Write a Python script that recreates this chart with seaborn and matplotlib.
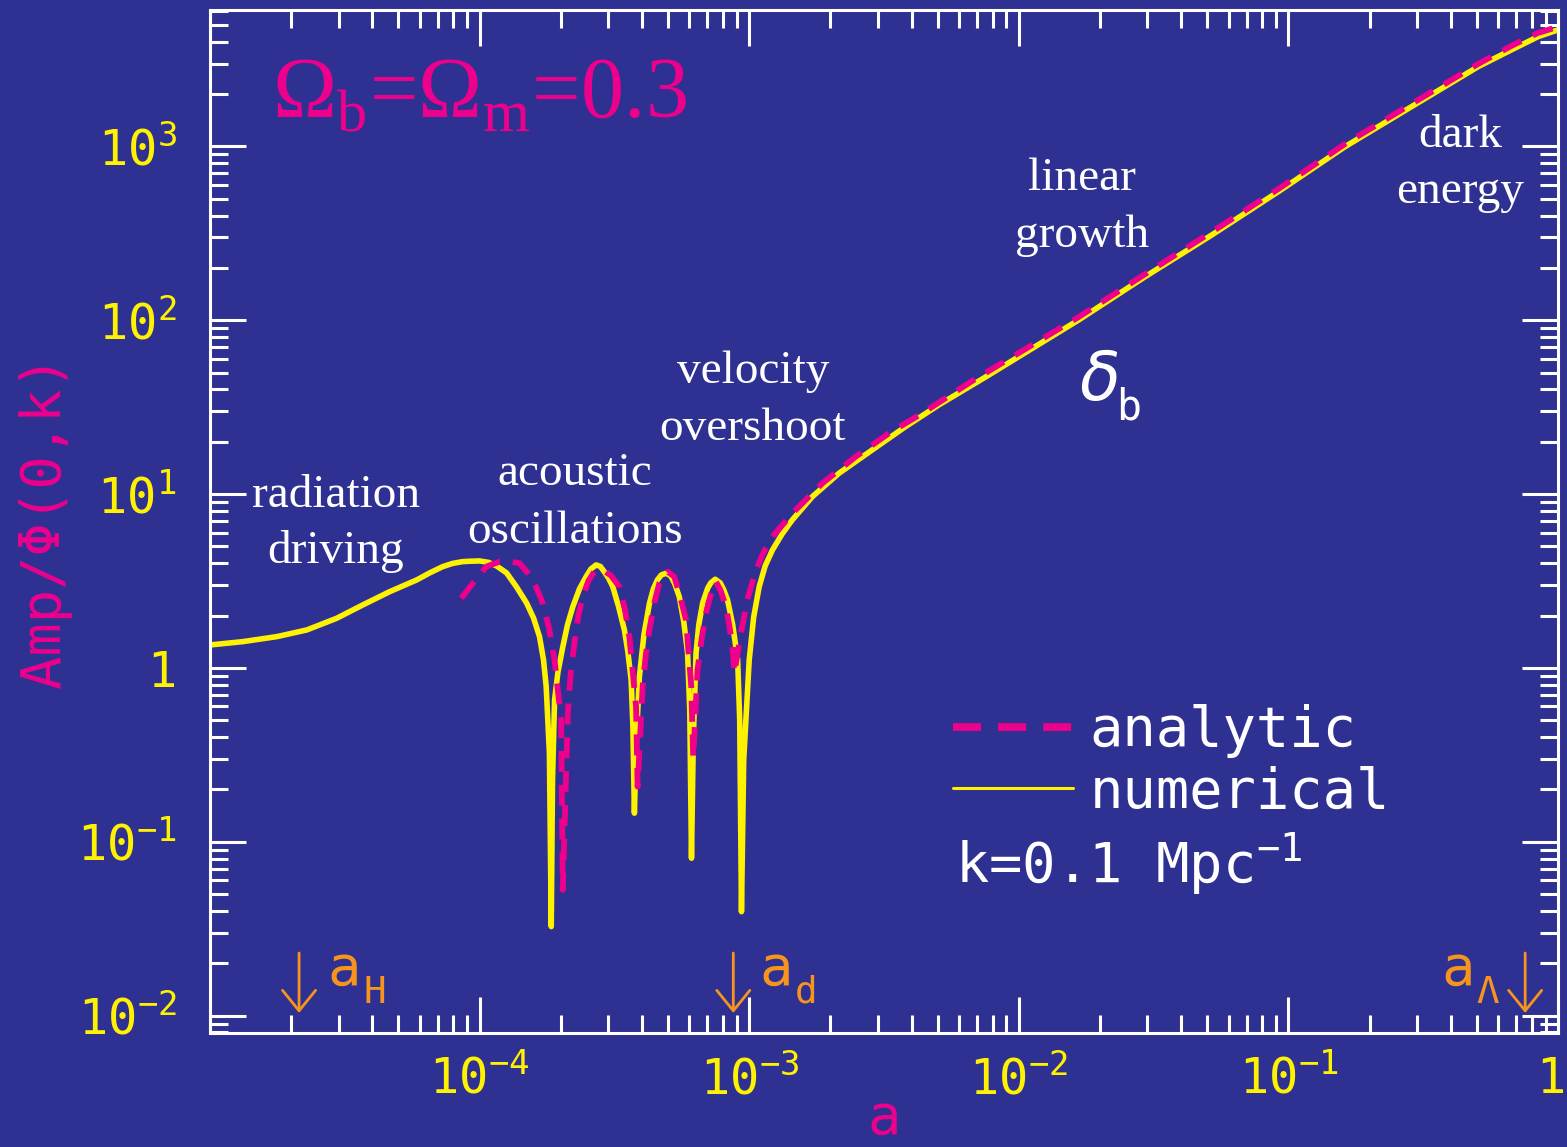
import numpy as np
import pandas as pd
import matplotlib
matplotlib.use("Agg")
import matplotlib.pyplot as plt
from matplotlib.ticker import LogLocator, NullFormatter, FuncFormatter
from matplotlib.transforms import ScaledTranslation
import seaborn as sns

# Baryon density amplitude delta_b / Phi(0,k) versus scale factor a, k = 0.1 Mpc^-1
num_a = [1.0e-5, 1.324e-5, 1.770e-5, 2.286e-5, 2.951e-5, 3.687e-5, 4.642e-5, 5.843e-5,
         6.53e-5, 7.298e-5, 7.943e-5, 8.65e-5, 9.183e-5, 1.0e-4, 1.080e-4, 1.156e-4,
         1.259e-4, 1.371e-4, 1.493e-4, 1.585e-4, 1.668e-4, 1.726e-4, 1.766e-4, 1.815e-4,
         1.844e-4,
         1.864e-4, 1.897e-4, 1.953e-4, 2.036e-4, 2.118e-4, 2.218e-4, 2.346e-4, 2.484e-4,
         2.588e-4, 2.704e-4, 2.805e-4, 2.904e-4, 3.005e-4, 3.118e-4, 3.272e-4, 3.444e-4,
         3.548e-4, 3.648e-4, 3.702e-4, 3.751e-4,
         3.814e-4, 3.915e-4, 4.068e-4, 4.266e-4, 4.41e-4, 4.564e-4, 4.72e-4, 4.913e-4,
         5.12e-4, 5.297e-4, 5.503e-4, 5.72e-4, 5.907e-4, 6.018e-4, 6.108e-4,
         6.203e-4, 6.35e-4, 6.501e-4, 6.72e-4, 7.02e-4, 7.2e-4, 7.48e-4, 7.81e-4,
         8.047e-4, 8.31e-4, 8.687e-4, 9.06e-4, 9.22e-4, 9.36e-4,
         9.541e-4, 1.0e-3, 1.039e-3, 1.089e-3, 1.146e-3, 1.220e-3, 1.325e-3, 1.445e-3,
         1.715e-3, 2.154e-3, 2.86e-3, 3.80e-3, 5.05e-3, 7.53e-3, 1.668e-2, 2.944e-2,
         5.20e-2, 9.18e-2, 0.1622, 0.2864, 0.5058, 0.6714, 0.8435, 1.0]
num_amp = [1.356, 1.417, 1.514, 1.654, 1.931, 2.304, 2.748, 3.208,
           3.521, 3.827, 3.994, 4.089, 4.11, 4.127, 4.046, 3.863,
           3.521, 2.924, 2.366, 1.940, 1.514, 1.112, 0.781, 0.324,
           0.0325,
           0.2267, 0.6545, 0.9484, 1.326, 1.768, 2.253, 2.848, 3.352,
           3.712, 3.914, 3.837, 3.567, 3.295, 2.936, 2.274, 1.654,
           1.236, 0.853, 0.47, 0.146,
           0.3852, 0.891, 1.548, 2.356, 2.848, 3.208, 3.428, 3.507,
           3.383, 3.043, 2.572, 1.839, 1.22, 0.5733, 0.0804,
           0.3852, 1.22, 1.768, 2.366, 2.886, 3.084, 3.238, 3.084,
           2.811, 2.462, 1.768, 1.112, 0.502, 0.0396,
           0.2956, 1.112, 1.965, 2.936, 3.863, 4.775, 5.902, 7.107,
           9.674, 13.19, 17.96, 24.45, 32.6, 47.2, 100.5, 178.4,
           309.9, 550.2, 998, 1697, 2882, 3596, 4287, 4688]

ana_a = [8.55e-5, 9.445e-5, 1.059e-4, 1.186e-4, 1.292e-4, 1.406e-4, 1.532e-4, 1.626e-4,
         1.715e-4, 1.809e-4, 1.896e-4, 2.007e-4, 2.035e-4,
         2.124e-4, 2.183e-4, 2.248e-4, 2.326e-4, 2.413e-4, 2.533e-4, 2.666e-4, 2.861e-4,
         3.069e-4, 3.300e-4, 3.458e-4, 3.594e-4, 3.805e-4, 3.857e-4,
         4.025e-4, 4.136e-4, 4.261e-4, 4.446e-4, 4.642e-4, 4.803e-4, 4.98e-4, 5.275e-4,
         5.552e-4, 5.83e-4, 6.098e-4, 6.203e-4,
         6.434e-4, 6.668e-4, 6.913e-4, 7.2e-4, 7.526e-4, 7.84e-4, 8.197e-4, 8.43e-4,
         8.67e-4, 8.80e-4,
         9.34e-4, 9.83e-4, 1.059e-3, 1.132e-3, 1.220e-3, 1.446e-3, 1.868e-3, 2.485e-3,
         3.30e-3, 4.385e-3, 6.714e-3, 1.668e-2, 2.946e-2, 5.198e-2, 9.18e-2, 0.1622,
         0.2862, 0.5055, 0.6714, 0.8431, 1.0]
ana_amp = [2.518, 3.072, 3.827, 4.089, 4.101, 4.004, 3.428, 2.886,
           2.357, 1.699, 1.112, 0.502, 0.0528,
           0.5487, 0.974, 1.393, 2.018, 2.572, 3.166, 3.582, 3.664,
           3.406, 2.936, 2.185, 1.514, 0.599, 0.2075,
           0.781, 1.188, 1.654, 2.366, 3.072, 3.383, 3.582, 3.352,
           2.562, 1.889, 0.781, 0.3022,
           0.974, 1.488, 2.064, 2.63, 3.138, 2.773, 2.253, 1.768,
           1.326, 0.932,
           1.611, 2.462, 3.664, 4.651, 5.693, 7.766, 11.55, 16.44,
           22.41, 29.21, 44.8, 104.6, 184.9, 322.6, 570.2, 1035,
           1758, 2987, 3792, 4505, 4877]

# characteristic epochs: horizon crossing, drag epoch, dark energy
epoch_names = ["H", "d", "Λ"]
epoch_a = [2.14e-5, 8.73e-4, 0.755]

x_major = [1e-5, 1e-4, 1e-3, 1e-2, 1e-1, 1.0]
y_major = [1e-2, 1e-1, 1.0, 1e1, 1e2, 1e3]

BG = "#2E3192"
YELLOW = "#FFF200"
MAGENTA = "#EC008C"
ORANGE = "#F7941D"
WHITE = "#FFFFFF"

sns.set_style("ticks")
plt.rcParams["font.family"] = ["DejaVu Sans Mono", "DejaVu Sans"]
plt.rcParams["mathtext.fontset"] = "custom"
plt.rcParams["mathtext.rm"] = "Liberation Serif"
plt.rcParams["mathtext.it"] = "DejaVu Sans:italic"
plt.rcParams["mathtext.tt"] = "DejaVu Sans Mono"

fig = plt.figure(figsize=(15.67, 11.47), dpi=100, facecolor=BG)
ax = fig.add_axes([0.1340, 0.0994, 0.8603, 0.8919])
ax.set_facecolor(BG)

df_num = pd.DataFrame({"a": num_a, "amp": num_amp})
df_ana = pd.DataFrame({"a": ana_a, "amp": ana_amp})

sns.lineplot(data=df_num, x="a", y="amp", ax=ax, color=YELLOW, lw=4.0,
             sort=False, estimator=None, solid_joinstyle="round")
sns.lineplot(data=df_ana, x="a", y="amp", ax=ax, color=MAGENTA, lw=4.2,
             sort=False, estimator=None, linestyle=(0, (3.6, 2.2)))
num_line, ana_line = ax.get_lines()[:2]

ax.set_xscale("log")
ax.set_yscale("log")


def pow_label(v, skip=None):
    e = int(round(np.log10(v)))
    if skip is not None and e == skip:
        return ""
    if e == 0:
        return "1"
    return "10$^{\\mathtt{%d}}$" % e


ax.set_xticks(x_major)
ax.set_yticks(y_major)
ax.xaxis.set_minor_locator(LogLocator(base=10, subs=np.arange(2, 10), numticks=60))
ax.yaxis.set_minor_locator(LogLocator(base=10, subs=np.arange(2, 10), numticks=60))
ax.xaxis.set_major_formatter(FuncFormatter(lambda v, p: pow_label(v, skip=-5)))
ax.yaxis.set_major_formatter(FuncFormatter(lambda v, p: pow_label(v)))
ax.xaxis.set_minor_formatter(NullFormatter())
ax.yaxis.set_minor_formatter(NullFormatter())
ax.set_xlim(1e-5, 1.0)
ax.set_ylim(7.94e-3, 6.1e3)

ax.tick_params(which="both", direction="in", top=True, right=True,
               color=WHITE, labelcolor=YELLOW, width=2.2)
ax.tick_params(which="major", length=26, labelsize=35)
ax.tick_params(which="minor", length=13)
ax.tick_params(axis="y", which="major", pad=24)
ax.tick_params(axis="x", which="major", pad=16)
for s in ax.spines.values():
    s.set_color(WHITE)
    s.set_linewidth(2.2)

# keep the label of the last x tick inside the figure
last_lab = ax.xaxis.get_major_ticks()[-1].label1
last_lab.set_transform(last_lab.get_transform()
                       + ScaledTranslation(-5 / 72, 0, fig.dpi_scale_trans))

ax.set_xlabel("a", color=MAGENTA, fontsize=40)
ax.xaxis.label.set_va("bottom")
ax.xaxis.set_label_coords(0.5, -0.1105)
ax.set_ylabel("Amp/Φ(0,k)", color=MAGENTA, fontsize=40)
ax.yaxis.set_label_coords(-0.1024, 0.5)

# model parameters
ax.text(0.046, 0.8954, r"$\Omega_{\mathrm{b}}$=$\Omega_{\mathrm{m}}$=0.3",
        transform=ax.transAxes, color=MAGENTA, fontsize=62,
        family="Liberation Serif", ha="left", va="baseline")

# regimes of the evolution
serif = dict(transform=ax.transAxes, color=WHITE, fontsize=34,
             family="Liberation Serif", ha="center", va="baseline")
for x, y1, y2, l1, l2 in [(0.0935, 0.5142, 0.4594, "radiation", "driving"),
                          (0.2708, 0.5357, 0.4793, "acoustic", "oscillations"),
                          (0.4028, 0.6354, 0.5797, "velocity", "overshoot"),
                          (0.6469, 0.8240, 0.7683, "linear", "growth"),
                          (0.9273, 0.8664, 0.8113, "dark", "energy")]:
    ax.text(x, y1, l1, **serif)
    ax.text(x, y2, l2, **serif)

ax.text(1.668e-2, 34.8, r"$\delta$", color=WHITE, fontsize=48,
        ha="left", va="baseline")
ax.annotate("b", xy=(1.668e-2, 34.8), xytext=(27, -14), textcoords="offset points",
            color=WHITE, fontsize=30, ha="left", va="baseline")

# epoch markers
arrow_kw = dict(arrowstyle="->,head_length=1.05,head_width=0.85", color=ORANGE,
                lw=2.0, shrinkA=0, shrinkB=0, mutation_scale=14)
for a_ep in epoch_a:
    ax.annotate("", xy=(a_ep, 0.01035), xytext=(a_ep, 0.0229), arrowprops=arrow_kw)
label_x = [2.735e-5, 1.089e-3, 0.3686]
for name, xl in zip(epoch_names, label_x):
    ax.text(xl, 0.0151, "a", color=ORANGE, fontsize=40, ha="left", va="baseline")
    ax.annotate(name, xy=(xl, 0.0151), xytext=(25.5, -13), textcoords="offset points",
                color=ORANGE, fontsize=27, ha="left", va="baseline")

# legend
leg = ax.legend([ana_line, num_line], ["analytic", "numerical"],
                loc="upper left", bbox_to_anchor=(0.551, 0.3216),
                frameon=False, fontsize=40, labelcolor=WHITE,
                handlelength=2.16, handletextpad=0.3, labelspacing=0.14,
                borderpad=0, borderaxespad=0)
leg_lines = leg.get_lines()
leg_lines[0].set_linewidth(5.6)
leg_lines[1].set_linewidth(2.2)

ax.text(0.5527, 0.1476, "k=0.1 Mpc$^{\\mathtt{-1}}$", transform=ax.transAxes,
        color=WHITE, fontsize=40, ha="left", va="baseline")

fig.savefig("out.png", dpi=100, facecolor=BG)
